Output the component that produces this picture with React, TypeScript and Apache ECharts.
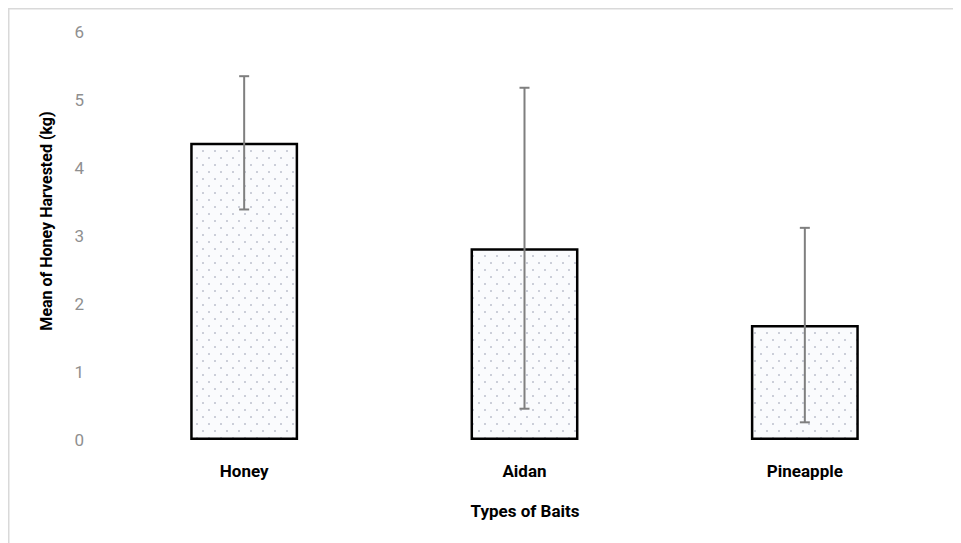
import React, { useEffect, useRef } from "react";
import * as echarts from "echarts";

const categories = ["Honey", "Aidan", "Pineapple"];
const means = [4.37, 2.82, 1.69];
const errLow = [3.39, 0.46, 0.26];
const errHigh = [5.35, 5.18, 3.12];
const yTicks = [0, 1, 2, 3, 4, 5, 6];

function makeDots(): string {
  const c = document.createElement("canvas");
  c.width = 12;
  c.height = 14;
  const ctx = c.getContext("2d")!;
  ctx.fillStyle = "#fafbfd";
  ctx.fillRect(0, 0, 12, 14);
  ctx.fillStyle = "#b8bcc9";
  ctx.beginPath();
  ctx.arc(3, 3, 0.95, 0, Math.PI * 2);
  ctx.fill();
  ctx.beginPath();
  ctx.arc(9, 10, 0.95, 0, Math.PI * 2);
  ctx.fill();
  return c.toDataURL();
}

export default function App() {
  const ref = useRef<HTMLDivElement>(null);
  useEffect(() => {
    if (!ref.current) return;
    const chart = echarts.init(ref.current, null, { renderer: "svg" });
    const dots = makeDots();
    chart.setOption({
      animation: false,
      textStyle: { fontFamily: "Roboto" },
      grid: { left: 96, right: 16, top: 24, bottom: 103 },
      xAxis: {
        type: "category",
        data: categories,
        axisLine: { show: false },
        axisTick: { show: false },
        axisLabel: {
          margin: 22,
          fontSize: 17,
          fontWeight: "bold",
          color: "#000",
          fontFamily: "Roboto",
        },
      },
      yAxis: {
        type: "value",
        min: yTicks[0],
        max: yTicks[yTicks.length - 1],
        interval: 1,
        axisLine: { show: false },
        axisTick: { show: false },
        splitLine: { show: false },
        axisLabel: { margin: 20, fontSize: 17, color: "#8f8f8f", fontFamily: "Roboto" },
      },
      graphic: [
        {
          type: "polyline",
          silent: true,
          shape: { points: [[0.75, 3000], [0.75, 0.75], [3000, 0.75]] },
          style: { fill: "none", stroke: "#d9d9d9", lineWidth: 1.5 },
        },
        {
          type: "text",
          x: 38,
          y: 213,
          rotation: Math.PI / 2,
          style: {
            text: "Mean of Honey Harvested (kg)",
            fontSize: 16,
            fontWeight: "bold",
            fontFamily: "Roboto",
            fill: "#000",
            align: "center",
            verticalAlign: "middle",
          },
        },
        {
          type: "text",
          x: 517,
          y: 503,
          style: {
            text: "Types of Baits",
            fontSize: 17,
            fontWeight: "bold",
            fontFamily: "Roboto",
            fill: "#000",
            align: "center",
            verticalAlign: "middle",
          },
        },
      ],
      series: [
        {
          type: "bar",
          data: means,
          barWidth: "38.5%",
          itemStyle: {
            color: { image: dots, repeat: "repeat" },
            borderColor: "#000",
            borderWidth: 2.5,
          },
        },
        {
          type: "custom",
          data: categories.map((_, i) => [i, errLow[i], errHigh[i]]),
          renderItem: (params: any, api: any) => {
            const x = api.value(0);
            const lo = api.coord([x, api.value(1)]);
            const hi = api.coord([x, api.value(2)]);
            const cw = 5;
            const st = { stroke: "#7f7f7f", lineWidth: 2 };
            return {
              type: "group",
              children: [
                { type: "line", shape: { x1: hi[0], y1: hi[1], x2: lo[0], y2: lo[1] }, style: st },
                { type: "line", shape: { x1: hi[0] - cw, y1: hi[1], x2: hi[0] + cw, y2: hi[1] }, style: st },
                { type: "line", shape: { x1: lo[0] - cw, y1: lo[1], x2: lo[0] + cw, y2: lo[1] }, style: st },
              ],
            };
          },
          z: 5,
        },
      ],
    });
    return () => chart.dispose();
  }, []);
  return <div ref={ref} style={{ width: 953, height: 535 }} />;
}
